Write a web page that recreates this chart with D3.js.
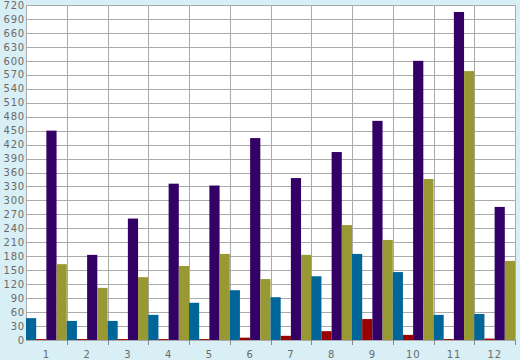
<!DOCTYPE html>
<html>
<head>
<meta charset="utf-8">
<script src="https://cdn.jsdelivr.net/npm/d3@7"></script>
<style>
  html, body { margin: 0; padding: 0; background: #d9eff6; }
  svg { display: block; }
  .axis text { font-family: "DejaVu Sans", sans-serif; font-size: 10px; letter-spacing: 0.8px; fill: #6a6a6a; }
  .axis path { display: none; }
  .axis line { stroke: #888; }
</style>
</head>
<body>
<svg id="chart" width="520" height="360"></svg>
<script>
const categories = ['1', '2', '3', '4', '5', '6', '7', '8', '9', '10', '11', '12']
const seriesNames = ['s1', 's2', 's3', 's4']
const seriesColors = ['#006699', '#990000', '#330066', '#999933']
const s1 = [47, 41, 41, 54, 80, 107, 92, 137, 185, 146, 54, 56]
const s2 = [2, 2, 2, 2, 2, 5, 9, 19, 45, 11, 2, 3]
const s3 = [450, 183, 261, 336, 332, 434, 348, 404, 471, 600, 705, 286]
const s4 = [163, 112, 135, 159, 185, 131, 183, 247, 215, 346, 578, 170]
const yTicks = d3.range(0, 721, 30)

const series = [s1, s2, s3, s4]

const svg = d3.select('#chart')
const margin = { top: 5, right: 5, bottom: 20, left: 26 }
const width = 520 - margin.left - margin.right
const height = 360 - margin.top - margin.bottom

const g = svg.append('g')
  .attr('transform', `translate(${margin.left},${margin.top})`)

const x = d3.scaleBand()
  .domain(categories)
  .range([0, width])
  .padding(0)

const xInner = d3.scaleBand()
  .domain(seriesNames)
  .range([0, x.bandwidth()])
  .padding(0)

const y = d3.scaleLinear()
  .domain([0, 720])
  .range([height, 0])

g.append('rect')
  .attr('width', width)
  .attr('height', height)
  .attr('fill', '#fff')

// grid
g.append('g')
  .selectAll('line.h')
  .data(yTicks)
  .join('line')
  .attr('x1', 0)
  .attr('x2', width)
  .attr('y1', (d) => Math.round(y(d)) + 0.5)
  .attr('y2', (d) => Math.round(y(d)) + 0.5)
  .attr('stroke', '#aaa')

const bounds = categories.map((c) => x(c)).concat([width])
g.append('g')
  .selectAll('line.v')
  .data(bounds)
  .join('line')
  .attr('x1', (d) => Math.round(d) + 0.5)
  .attr('x2', (d) => Math.round(d) + 0.5)
  .attr('y1', 0)
  .attr('y2', height)
  .attr('stroke', '#aaa')

// bars
const groups = g.append('g')
  .selectAll('g')
  .data(categories)
  .join('g')
  .attr('transform', (d) => `translate(${x(d)},0)`)

groups.selectAll('rect')
  .data((d, i) => series.map((s, k) => ({ key: seriesNames[k], value: s[i], color: seriesColors[k] })))
  .join('rect')
  .attr('x', (d) => xInner(d.key))
  .attr('width', xInner.bandwidth())
  .attr('y', (d) => y(d.value))
  .attr('height', (d) => height - y(d.value))
  .attr('fill', (d) => d.color)

// axes
const yAxis = d3.axisLeft(y)
  .tickValues(yTicks)
  .tickSize(0)
  .tickPadding(1)

g.append('g')
  .attr('class', 'axis')
  .call(yAxis)

const xAxis = d3.axisBottom(x)
  .tickSize(0)
  .tickPadding(11)

const gx = g.append('g')
  .attr('class', 'axis')
  .attr('transform', `translate(0,${height})`)
  .call(xAxis)

gx.selectAll('line.sep')
  .data(bounds.slice(1))
  .join('line')
  .attr('class', 'sep')
  .attr('x1', (d) => Math.round(d) + 0.5)
  .attr('x2', (d) => Math.round(d) + 0.5)
  .attr('y1', 0)
  .attr('y2', 5)
</script>
</body>
</html>
